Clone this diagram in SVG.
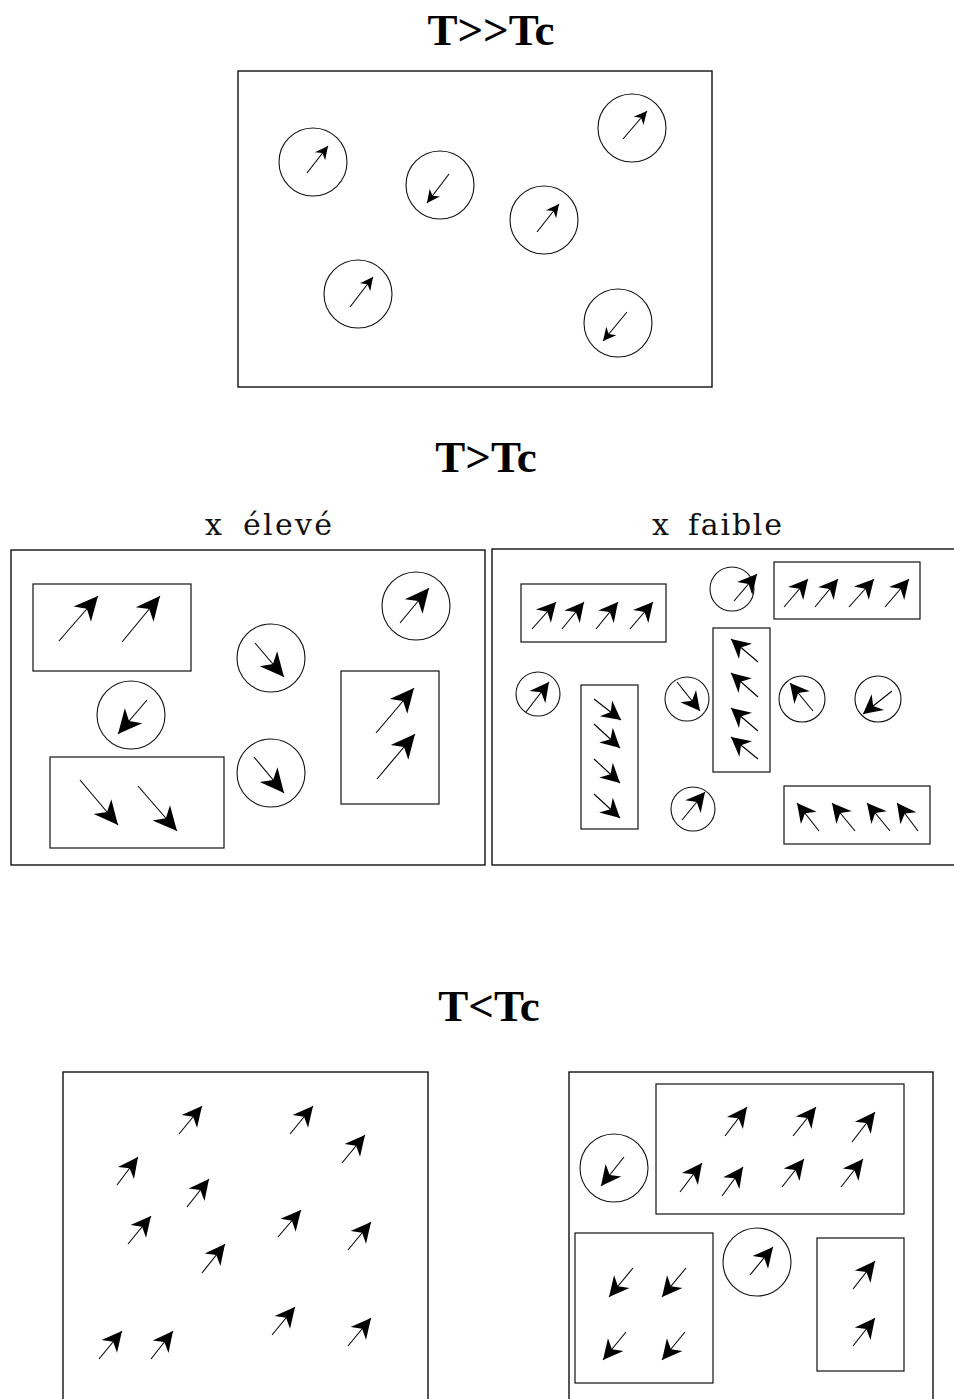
<svg xmlns="http://www.w3.org/2000/svg" width="954" height="1399" viewBox="0 0 954 1399">
<style>
.title{font-family:"Liberation Serif","Times New Roman",serif;font-weight:bold;font-size:45px;fill:#000;text-anchor:middle}
.lab{font-family:"DejaVu Serif","Liberation Serif",serif;font-size:30px;fill:#111}
.frame{fill:none;stroke:#111;stroke-width:1.4}
.dom{fill:none;stroke:#111;stroke-width:1.2}
.ion{fill:none;stroke:#111;stroke-width:1.1}
line{stroke:#000;stroke-width:1.1}
</style>
<defs>
<path id="hs" d="M0,0 L-13,-6.5 L-9,0 L-13,6.5 Z" fill="#000"/>
<path id="hm" d="M0,0 L-19,-10 L-13,0 L-19,10 Z" fill="#000"/>
<path id="hl" d="M0,0 L-20,-10 L-14,0 L-20,10 Z" fill="#000"/>
<path id="hb" d="M0,0 L-24,-11.5 L-17,0 L-24,11.5 Z" fill="#000"/>
</defs>
<rect width="954" height="1399" fill="#fff"/>

<!-- Titles -->
<text class="title" x="491" y="45">T&gt;&gt;Tc</text>
<text class="title" x="486" y="472">T&gt;Tc</text>
<text class="title" x="489" y="1021">T&lt;Tc</text>
<text class="lab" y="535"><tspan x="205">x </tspan><tspan x="243" textLength="89" lengthAdjust="spacing">élevé</tspan></text>
<text class="lab" y="535"><tspan x="652">x </tspan><tspan x="688" textLength="94" lengthAdjust="spacing">faible</tspan></text>

<!-- Panel 1: T>>Tc -->
<g id="panel1">
<rect class="frame" x="238" y="71" width="474" height="316"/>
<g id="p1-ion1"><circle class="ion" cx="313" cy="162" r="34"/><line x1="307" y1="173" x2="328" y2="146"/><use href="#hs" transform="translate(328,146) rotate(-52.1)"/></g>
<g id="p1-ion2"><circle class="ion" cx="440" cy="185" r="34"/><line x1="449" y1="174" x2="427" y2="203"/><use href="#hs" transform="translate(427,203) rotate(127.2)"/></g>
<g id="p1-ion3"><circle class="ion" cx="544" cy="220" r="34"/><line x1="537" y1="232" x2="559" y2="204"/><use href="#hs" transform="translate(559,204) rotate(-51.8)"/></g>
<g id="p1-ion4"><circle class="ion" cx="632" cy="128" r="34"/><line x1="623" y1="139" x2="647" y2="111"/><use href="#hs" transform="translate(647,111) rotate(-49.4)"/></g>
<g id="p1-ion5"><circle class="ion" cx="358" cy="294" r="34"/><line x1="350" y1="307" x2="373" y2="277"/><use href="#hs" transform="translate(373,277) rotate(-52.5)"/></g>
<g id="p1-ion6"><circle class="ion" cx="618" cy="323" r="34"/><line x1="627" y1="312" x2="603" y2="341"/><use href="#hs" transform="translate(603,341) rotate(129.6)"/></g>
</g>

<!-- Panel 2 left: x eleve -->
<g id="panel2a">
<rect class="frame" x="11" y="550" width="474" height="315"/>
<g id="p2a-domA"><rect class="dom" x="33" y="584" width="158" height="87"/>
<line x1="59" y1="641" x2="98" y2="596"/><use href="#hb" transform="translate(98,596) rotate(-49.1)"/>
<line x1="122" y1="642" x2="160" y2="596"/><use href="#hb" transform="translate(160,596) rotate(-50.4)"/></g>
<g id="p2a-ion1"><circle class="ion" cx="416" cy="606" r="34"/><line x1="400" y1="623" x2="429" y2="588"/><use href="#hb" transform="translate(429,588) rotate(-50.4)"/></g>
<g id="p2a-ion2"><circle class="ion" cx="271" cy="658" r="34"/><line x1="255" y1="643" x2="284" y2="677"/><use href="#hb" transform="translate(284,677) rotate(49.5)"/></g>
<g id="p2a-ion3"><circle class="ion" cx="131" cy="715" r="34"/><line x1="147" y1="700" x2="118" y2="734"/><use href="#hb" transform="translate(118,734) rotate(130.5)"/></g>
<g id="p2a-domB"><rect class="dom" x="50" y="757" width="174" height="91"/>
<line x1="80" y1="780" x2="118" y2="825"/><use href="#hb" transform="translate(118,825) rotate(49.8)"/>
<line x1="138" y1="786" x2="177" y2="831"/><use href="#hb" transform="translate(177,831) rotate(49.1)"/></g>
<g id="p2a-ion4"><circle class="ion" cx="271" cy="773" r="34"/><line x1="254" y1="757" x2="284" y2="793"/><use href="#hb" transform="translate(284,793) rotate(50.2)"/></g>
<g id="p2a-domC"><rect class="dom" x="341" y="671" width="98" height="133"/>
<line x1="376" y1="733" x2="414" y2="688"/><use href="#hb" transform="translate(414,688) rotate(-49.8)"/>
<line x1="377" y1="779" x2="415" y2="734"/><use href="#hb" transform="translate(415,734) rotate(-49.8)"/></g>
</g>

<!-- Panel 2 right: x faible -->
<g id="panel2b">
<rect class="frame" x="492" y="549" width="480" height="316"/>
<g id="p2b-domD"><rect class="dom" x="521" y="584" width="145" height="58"/>
<line x1="532" y1="629" x2="556" y2="602"/><use href="#hm" transform="translate(556,602) rotate(-48.4)"/>
<line x1="562" y1="629" x2="584" y2="602"/><use href="#hm" transform="translate(584,602) rotate(-50.8)"/>
<line x1="596" y1="629" x2="618" y2="602"/><use href="#hm" transform="translate(618,602) rotate(-50.8)"/>
<line x1="630" y1="629" x2="653" y2="602"/><use href="#hm" transform="translate(653,602) rotate(-49.6)"/></g>
<g id="p2b-ion1"><circle class="ion" cx="732" cy="589" r="22"/><line x1="734" y1="601" x2="757" y2="574"/><use href="#hm" transform="translate(757,574) rotate(-49.6)"/></g>
<g id="p2b-domE"><rect class="dom" x="774" y="562" width="146" height="57"/>
<line x1="784" y1="607" x2="808" y2="579"/><use href="#hm" transform="translate(808,579) rotate(-49.4)"/>
<line x1="815" y1="607" x2="838" y2="579"/><use href="#hm" transform="translate(838,579) rotate(-50.6)"/>
<line x1="849" y1="607" x2="874" y2="579"/><use href="#hm" transform="translate(874,579) rotate(-48.2)"/>
<line x1="885" y1="607" x2="909" y2="579"/><use href="#hm" transform="translate(909,579) rotate(-49.4)"/></g>
<g id="p2b-domF"><rect class="dom" x="713" y="628" width="57" height="144"/>
<line x1="758" y1="662" x2="731" y2="639"/><use href="#hm" transform="translate(731,639) rotate(-139.6)"/>
<line x1="758" y1="697" x2="731" y2="673"/><use href="#hm" transform="translate(731,673) rotate(-138.4)"/>
<line x1="758" y1="731" x2="731" y2="708"/><use href="#hm" transform="translate(731,708) rotate(-139.6)"/>
<line x1="758" y1="759" x2="731" y2="737"/><use href="#hm" transform="translate(731,737) rotate(-140.8)"/></g>
<g id="p2b-ion2"><circle class="ion" cx="538" cy="694" r="22"/><line x1="526" y1="712" x2="549" y2="682"/><use href="#hm" transform="translate(549,682) rotate(-52.5)"/></g>
<g id="p2b-domG"><rect class="dom" x="581" y="685" width="57" height="144"/>
<line x1="594" y1="699" x2="621" y2="720"/><use href="#hm" transform="translate(621,720) rotate(37.9)"/>
<line x1="594" y1="724" x2="620" y2="748"/><use href="#hm" transform="translate(620,748) rotate(42.7)"/>
<line x1="594" y1="759" x2="620" y2="783"/><use href="#hm" transform="translate(620,783) rotate(42.7)"/>
<line x1="594" y1="794" x2="620" y2="818"/><use href="#hm" transform="translate(620,818) rotate(42.7)"/></g>
<g id="p2b-ion3"><circle class="ion" cx="687" cy="699" r="22"/><line x1="677" y1="682" x2="700" y2="711"/><use href="#hm" transform="translate(700,711) rotate(51.6)"/></g>
<g id="p2b-ion4"><circle class="ion" cx="802" cy="699" r="23"/><line x1="813" y1="711" x2="790" y2="683"/><use href="#hm" transform="translate(790,683) rotate(-129.4)"/></g>
<g id="p2b-ion5"><circle class="ion" cx="878" cy="699" r="23"/><line x1="892" y1="691" x2="863" y2="714"/><use href="#hm" transform="translate(863,714) rotate(141.6)"/></g>
<g id="p2b-ion6"><circle class="ion" cx="693" cy="809" r="22"/><line x1="682" y1="820" x2="705" y2="792"/><use href="#hm" transform="translate(705,792) rotate(-50.6)"/></g>
<g id="p2b-domH"><rect class="dom" x="784" y="786" width="146" height="58"/>
<line x1="819" y1="831" x2="797" y2="803"/><use href="#hm" transform="translate(797,803) rotate(-128.2)"/>
<line x1="855" y1="831" x2="832" y2="803"/><use href="#hm" transform="translate(832,803) rotate(-129.4)"/>
<line x1="890" y1="831" x2="867" y2="803"/><use href="#hm" transform="translate(867,803) rotate(-129.4)"/>
<line x1="918" y1="831" x2="897" y2="803"/><use href="#hm" transform="translate(897,803) rotate(-126.9)"/></g>
</g>

<!-- Panel 3 left: T<Tc -->
<g id="panel3a">
<rect class="frame" x="63" y="1072" width="365" height="340"/>
<line x1="179" y1="1134" x2="202" y2="1106"/><use href="#hl" transform="translate(202,1106) rotate(-50.6)"/>
<line x1="290" y1="1134" x2="313" y2="1106"/><use href="#hl" transform="translate(313,1106) rotate(-50.6)"/>
<line x1="342" y1="1163" x2="365" y2="1135"/><use href="#hl" transform="translate(365,1135) rotate(-50.6)"/>
<line x1="117" y1="1185" x2="138" y2="1157"/><use href="#hl" transform="translate(138,1157) rotate(-53.1)"/>
<line x1="187" y1="1207" x2="209" y2="1179"/><use href="#hl" transform="translate(209,1179) rotate(-51.8)"/>
<line x1="128" y1="1244" x2="151" y2="1216"/><use href="#hl" transform="translate(151,1216) rotate(-50.6)"/>
<line x1="278" y1="1237" x2="301" y2="1210"/><use href="#hl" transform="translate(301,1210) rotate(-49.6)"/>
<line x1="348" y1="1250" x2="371" y2="1222"/><use href="#hl" transform="translate(371,1222) rotate(-50.6)"/>
<line x1="202" y1="1273" x2="225" y2="1244"/><use href="#hl" transform="translate(225,1244) rotate(-51.6)"/>
<line x1="272" y1="1335" x2="295" y2="1307"/><use href="#hl" transform="translate(295,1307) rotate(-50.6)"/>
<line x1="348" y1="1346" x2="371" y2="1318"/><use href="#hl" transform="translate(371,1318) rotate(-50.6)"/>
<line x1="99" y1="1359" x2="122" y2="1331"/><use href="#hl" transform="translate(122,1331) rotate(-50.6)"/>
<line x1="151" y1="1359" x2="173" y2="1331"/><use href="#hl" transform="translate(173,1331) rotate(-51.8)"/>
</g>

<!-- Panel 3 right -->
<g id="panel3b">
<rect class="frame" x="569" y="1072" width="364" height="340"/>
<g id="p3b-dom1"><rect class="dom" x="656" y="1084" width="248" height="130"/>
<line x1="725" y1="1136" x2="747" y2="1107"/><use href="#hl" transform="translate(747,1107) rotate(-52.8)"/>
<line x1="793" y1="1136" x2="816" y2="1107"/><use href="#hl" transform="translate(816,1107) rotate(-51.6)"/>
<line x1="852" y1="1142" x2="875" y2="1112"/><use href="#hl" transform="translate(875,1112) rotate(-52.5)"/>
<line x1="680" y1="1192" x2="702" y2="1163"/><use href="#hl" transform="translate(702,1163) rotate(-52.8)"/>
<line x1="722" y1="1196" x2="743" y2="1167"/><use href="#hl" transform="translate(743,1167) rotate(-54.1)"/>
<line x1="782" y1="1187" x2="804" y2="1159"/><use href="#hl" transform="translate(804,1159) rotate(-51.8)"/>
<line x1="841" y1="1187" x2="863" y2="1159"/><use href="#hl" transform="translate(863,1159) rotate(-51.8)"/></g>
<g id="p3b-ion1"><circle class="ion" cx="614" cy="1168" r="34"/><line x1="624" y1="1157" x2="601" y2="1186"/><use href="#hl" transform="translate(601,1186) rotate(128.4)"/></g>
<g id="p3b-dom2"><rect class="dom" x="575" y="1233" width="138" height="150"/>
<line x1="633" y1="1268" x2="609" y2="1297"/><use href="#hl" transform="translate(609,1297) rotate(129.6)"/>
<line x1="686" y1="1268" x2="662" y2="1297"/><use href="#hl" transform="translate(662,1297) rotate(129.6)"/>
<line x1="626" y1="1332" x2="603" y2="1360"/><use href="#hl" transform="translate(603,1360) rotate(129.4)"/>
<line x1="685" y1="1332" x2="662" y2="1360"/><use href="#hl" transform="translate(662,1360) rotate(129.4)"/></g>
<g id="p3b-ion2"><circle class="ion" cx="757" cy="1262" r="34"/><line x1="750" y1="1275" x2="773" y2="1247"/><use href="#hl" transform="translate(773,1247) rotate(-50.6)"/></g>
<g id="p3b-dom3"><rect class="dom" x="817" y="1238" width="87" height="133"/>
<line x1="853" y1="1289" x2="875" y2="1261"/><use href="#hl" transform="translate(875,1261) rotate(-51.8)"/>
<line x1="853" y1="1346" x2="875" y2="1318"/><use href="#hl" transform="translate(875,1318) rotate(-51.8)"/></g>
</g>
</svg>
